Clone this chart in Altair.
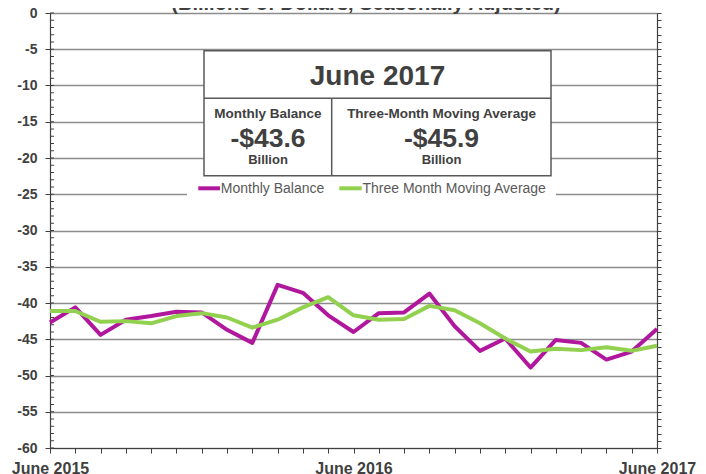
import altair as alt
import pandas as pd

# ---------------- data ----------------
months = list(range(25))  # June 2015 ... June 2017
tick_labels = {0: "June 2015", 12: "June 2016", 24: "June 2017"}
series_names = ["Monthly Balance", "Three Month Moving Average"]
monthly = [-42.7, -40.6, -44.4, -42.3, -41.8, -41.2, -41.3, -43.7, -45.5, -37.5,
           -38.6, -41.7, -44.0, -41.4, -41.3, -38.7, -43.2, -46.6, -44.9, -48.9,
           -45.1, -45.5, -47.8, -46.7, -43.6]
moving_avg = [-41.1, -41.1, -42.6, -42.5, -42.8, -41.8, -41.4, -42.0, -43.4, -42.3,
              -40.6, -39.2, -41.7, -42.3, -42.2, -40.4, -41.0, -42.8, -44.9, -46.7,
              -46.3, -46.5, -46.1, -46.6, -45.9]
colors = ["#B0179D", "#92D050"]
report_month = "June 2017"
box_headers = ["Monthly Balance", "Three-Month Moving Average"]
unit_word = "Billion"
title_text = "(Billions of Dollars, Seasonally Adjusted)"
y_major = list(range(-60, 1, 5))
y_minor = list(range(-60, 1))

FONT = "Liberation Sans"
DARK = "#404040"
W, H = 607, 435

df = pd.DataFrame({
    "m": months * 2,
    "v": monthly + moving_avg,
    "s": [series_names[0]] * len(months) + [series_names[1]] * len(months),
})

label_expr = " : ".join(f"datum.value == {k} ? '{v}'" for k, v in tick_labels.items()) + " : ''"

xscale = alt.Scale(domain=[months[0], months[-1]], nice=False, zero=False)
yscale = alt.Scale(domain=[-60, 0], nice=False, zero=False)

x_enc = alt.X("m:Q", scale=xscale, axis=alt.Axis(
    values=months, labelExpr=label_expr, tickSize=5, labelPadding=7,
    labelFontSize=16, labelFontWeight="bold", labelColor=DARK, labelFont=FONT,
    labelFlush=False, labelOverlap=False, labelBound=False, grid=False,
    domainColor=DARK, tickColor=DARK, domainWidth=1.2, title=None))
y_enc = alt.Y("v:Q", scale=yscale, axis=alt.Axis(
    orient="left", values=y_major, labelExpr="datum.value + ''", tickSize=5, labelPadding=8,
    labelFontSize=14, labelFontWeight="bold", labelColor=DARK, labelFont=FONT,
    grid=True, gridColor="#8c8c8c", gridWidth=1.5, domainColor=DARK,
    tickColor=DARK, domainWidth=1.2, title=None))

ticks = alt.Chart(pd.DataFrame({"v": y_minor})).mark_rule(color=DARK, strokeWidth=1).encode(
    x=alt.value(0), x2=alt.value(4),
    y=alt.Y("v:Q", scale=yscale, axis=alt.Axis(
        orient="right", values=y_minor, tickSize=4, labels=False, grid=False,
        domainColor=DARK, tickColor=DARK, domainWidth=1.2, title=None)))

lines = alt.Chart(df).mark_line(strokeWidth=4, strokeJoin="round").encode(
    x=x_enc, y=y_enc,
    color=alt.Color("s:N", scale=alt.Scale(domain=series_names, range=colors), legend=None))

one = pd.DataFrame({"k": [0]})
BOX = "#595959"
box = alt.Chart(one).mark_rect(fill="white", stroke=BOX, strokeWidth=1.5).encode(
    x=alt.value(154), x2=alt.value(501), y=alt.value(37.7), y2=alt.value(162.7))
hdiv = alt.Chart(one).mark_rule(color=BOX, strokeWidth=1.5).encode(
    x=alt.value(154), x2=alt.value(501), y=alt.value(85.3))
vdiv = alt.Chart(one).mark_rule(color=BOX, strokeWidth=1.5).encode(
    x=alt.value(281.7), y=alt.value(85.3), y2=alt.value(162.7))


def txt(s, x, y, size, bold=True, color=DARK, align="center"):
    return alt.Chart(pd.DataFrame({"t": [s]})).mark_text(
        font=FONT, fontSize=size, fontWeight="bold" if bold else "normal",
        color=color, align=align, baseline="alphabetic").encode(
        text="t:N", x=alt.value(x), y=alt.value(y))


box_texts = [
    txt(report_month, 327.5, 72, 28),
    txt(box_headers[0], 218, 105.3, 13.5),
    txt(f"-${abs(monthly[-1]):.1f}", 218, 133.7, 26.5),
    txt(unit_word, 218, 151.3, 13),
    txt(box_headers[1], 391.5, 105.3, 13.5),
    txt(f"-${abs(moving_avg[-1]):.1f}", 391.5, 133.7, 26.5),
    txt(unit_word, 391.5, 151.3, 13),
]

legend_bg = alt.Chart(one).mark_rect(fill="white").encode(
    x=alt.value(137), x2=alt.value(506), y=alt.value(166), y2=alt.value(186))
leg = []
for name, col, x0, x1 in [(series_names[0], colors[0], 148.3, 170), (series_names[1], colors[1], 289.3, 311.7)]:
    leg.append(alt.Chart(one).mark_rule(color=col, strokeWidth=4).encode(
        x=alt.value(x0), x2=alt.value(x1), y=alt.value(175.3)))
    leg.append(txt(name, x1 + 0.8, 180.3, 14, bold=False, color="#595959", align="left"))

title = txt(title_text, 316, -3.5, 20)

chart = alt.layer(ticks, lines, box, hdiv, vdiv, *box_texts, legend_bg, *leg, title).resolve_axis(
    y="independent"
).properties(
    width=W, height=H,
    autosize=alt.AutoSizeParams(type="none"),
    padding={"left": 42, "top": 5, "right": 41, "bottom": 26},
).configure_view(stroke=None)

chart.save("out.html", embed_options={"renderer": "svg", "actions": False})
